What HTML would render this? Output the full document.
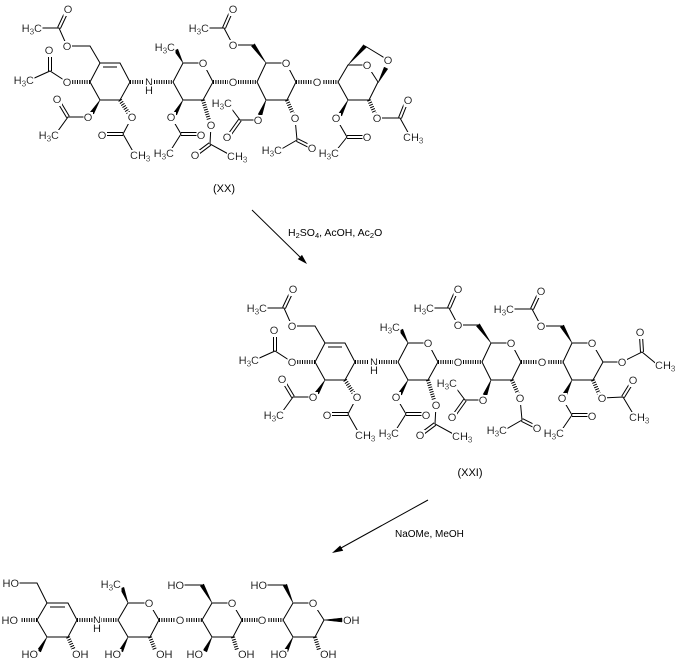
<!DOCTYPE html>
<html><head><meta charset="utf-8"><style>
html,body{margin:0;padding:0;background:#fff;}
svg{display:block;}
text{font-family:"Liberation Sans",Arial,sans-serif;font-size:11px;fill:#000;}
.t{filter:url(#bg);}
.m{text-anchor:middle;}
.e{text-anchor:end;}
.s{font-size:8px;}
.l{fill:none;stroke:#000;stroke-width:1;}
.h{fill:none;stroke:#000;stroke-width:4;stroke-dasharray:1 1.4;}
.d1{fill:none;stroke:#000;stroke-width:4;}
.d2{fill:none;stroke:#fff;stroke-width:2;}
.w{fill:#000;stroke:#000;stroke-width:0.5;}
</style></head><body>
<svg width="679" height="669" viewBox="0 0 679 669" xmlns="http://www.w3.org/2000/svg">
<defs>
<filter id="bg" x="0" y="0" width="1" height="1"><feFlood flood-color="#fff" result="f"/><feMerge><feMergeNode in="f"/><feMergeNode in="SourceGraphic"/></feMerge></filter>
</defs>
<rect width="679" height="669" fill="#fff"/>

<!-- ===== (XX) core ===== -->
<g>
<path class="d1" d="M59,28L67,11 M50,71L50,53 M68,117L59,102 M123,134L105,134 M181,134L198,134 M210,144L198,153 M224,28L231,12 M240,120L230,134 M297,140L309,146"/>
<path class="d2" d="M59,28L67,11 M50,71L50,53 M68,117L59,102 M123,134L105,134 M181,134L198,134 M210,144L198,153 M224,28L231,12 M240,120L230,134 M297,140L309,146"/>
<path class="l" d="M100,63L120,63L130,82L120,100L100,100L90,82Z M103,67L117,67 M100,63L90,46L67,46L59,28L38,28 M67,82L50,71L30,80 M88,117L68,117L55,135 M132,117L123,134L135,155 M173,82L183,63L203,63L213,82L203,100L183,100Z M171,117L181,134L169,153 M211,125L210,144L232,156 M257,82L266,63L286,63L296,82L287,100L266,100Z M253,45L233,45L224,28L205,28 M258,120L240,120L228,104 M295,118L297,140L278,151"/>
<path class="h" d="M90,82L71,82 M120,100L129,114 M130,82L144,82 M154,82L173,82 M203,100L209,120 M213,82L228,82 M238,82L257,82 M287,100L293,114 M296,82L312,82"/>
<polygon class="w" points="100,100 93.7,114 90.3,112"/>
<polygon class="w" points="183,63 177.8,49.1 174.2,50.9"/>
<polygon class="w" points="183,100 176.7,115 173.3,113"/>
<polygon class="w" points="266,63 254.6,43.8 251.4,46.2"/>
<polygon class="w" points="266,100 261.9,115.7 258.1,114.3"/>
<text class="t m" x="67" y="50">O</text>
<text class="t m" x="68" y="13">O</text>
<text class="t e" x="42" y="32">H<tspan class="s" dy="2.5">3</tspan><tspan dy="-2.5">C</tspan></text>
<text class="t m" x="67" y="86">O</text>
<text class="t m" x="49" y="54">O</text>
<text class="t e" x="34" y="84">H<tspan class="s" dy="2.5">3</tspan><tspan dy="-2.5">C</tspan></text>
<text class="t m" x="88" y="121">O</text>
<text class="t m" x="57" y="103">O</text>
<text class="t e" x="59" y="139">H<tspan class="s" dy="2.5">3</tspan><tspan dy="-2.5">C</tspan></text>
<text class="t m" x="132" y="121">O</text>
<text class="t m" x="102" y="139">O</text>
<text class="t" x="130" y="159">CH<tspan class="s" dy="2.5">3</tspan></text>
<text class="t m" x="149" y="86">N</text>
<text class="t m" x="149" y="94">H</text>
<text class="t m" x="203" y="67">O</text>
<text class="t e" x="175" y="51">H<tspan class="s" dy="2.5">3</tspan><tspan dy="-2.5">C</tspan></text>
<text class="t m" x="171" y="121">O</text>
<text class="t m" x="201" y="139">O</text>
<text class="t e" x="174" y="157">H<tspan class="s" dy="2.5">3</tspan><tspan dy="-2.5">C</tspan></text>
<text class="t m" x="211" y="129">O</text>
<text class="t m" x="195" y="159">O</text>
<text class="t" x="227" y="160">CH<tspan class="s" dy="2.5">3</tspan></text>
<text class="t m" x="233" y="86">O</text>
<text class="t m" x="286" y="67">O</text>
<text class="t m" x="233" y="49">O</text>
<text class="t m" x="233" y="13">O</text>
<text class="t e" x="209" y="32">H<tspan class="s" dy="2.5">3</tspan><tspan dy="-2.5">C</tspan></text>
<text class="t m" x="258" y="124">O</text>
<text class="t m" x="227" y="141">O</text>
<text class="t e" x="232" y="107">H<tspan class="s" dy="2.5">3</tspan><tspan dy="-2.5">C</tspan></text>
<text class="t m" x="295" y="122">O</text>
<text class="t m" x="312" y="152">O</text>
<text class="t e" x="282" y="154">H<tspan class="s" dy="2.5">3</tspan><tspan dy="-2.5">C</tspan></text>
</g>

<!-- XX ring D (anhydro) -->
<g>
<path class="d1" d="M347,137L363,137 M400,118L406,103"/>
<path class="d2" d="M347,137L363,137 M400,118L406,103"/>
<path class="l" d="M338,82L348,65L367,65L378,82L369,100L348,100Z M365,46L388,60 M336,118L347,137L335,152 M377,118L400,118L410,136"/>
<path class="h" d="M321,82L338,82 M369,100L375,114"/>
<polygon class="w" points="348,65 366.5,47.3 363.5,44.7"/>
<polygon class="w" points="378,83 387.8,68.9 384.2,67.1"/>
<polygon class="w" points="348,100 341.8,115.9 338.2,114.1"/>
<text class="t m" x="317" y="86">O</text>
<text class="t m" x="367" y="69">O</text>
<text class="t m" x="388" y="64">O</text>
<text class="t m" x="336" y="122">O</text>
<text class="t m" x="367" y="141">O</text>
<text class="t e" x="339" y="157">H<tspan class="s" dy="2.5">3</tspan><tspan dy="-2.5">C</tspan></text>
<text class="t m" x="377" y="122">O</text>
<text class="t m" x="408" y="104">O</text>
<text class="t" x="403" y="141">CH<tspan class="s" dy="2.5">3</tspan></text>
</g>
<text class="m" x="224" y="192">(XX)</text>

<!-- Arrow 1 -->
<path class="l" d="M252,210L300,257"/>
<polygon points="307,264 297.8,259.1 302,254.9" fill="#000"/>
<text x="288" y="236" style="font-size:10.5px">H<tspan style="font-size:7.5px" dy="2">2</tspan><tspan dy="-2">SO</tspan><tspan style="font-size:7.5px" dy="2">4</tspan><tspan dy="-2">, AcOH, Ac</tspan><tspan style="font-size:7.5px" dy="2">2</tspan><tspan dy="-2">O</tspan></text>

<!-- ===== (XXI) core ===== -->
<g transform="translate(225,280)">
<path class="d1" d="M59,28L67,11 M50,71L50,53 M68,117L59,102 M123,134L105,134 M181,134L198,134 M210,144L198,153 M224,28L231,12 M240,120L230,134 M297,140L309,146"/>
<path class="d2" d="M59,28L67,11 M50,71L50,53 M68,117L59,102 M123,134L105,134 M181,134L198,134 M210,144L198,153 M224,28L231,12 M240,120L230,134 M297,140L309,146"/>
<path class="l" d="M100,63L120,63L130,82L120,100L100,100L90,82Z M103,67L117,67 M100,63L90,46L67,46L59,28L38,28 M67,82L50,71L30,80 M88,117L68,117L55,135 M132,117L123,134L135,155 M173,82L183,63L203,63L213,82L203,100L183,100Z M171,117L181,134L169,153 M211,125L210,144L232,156 M257,82L266,63L286,63L296,82L287,100L266,100Z M253,45L233,45L224,28L205,28 M258,120L240,120L228,104 M295,118L297,140L278,151"/>
<path class="h" d="M90,82L71,82 M120,100L129,114 M130,82L144,82 M154,82L173,82 M203,100L209,120 M213,82L228,82 M238,82L257,82 M287,100L293,114 M296,82L312,82"/>
<polygon class="w" points="100,100 93.7,114 90.3,112"/>
<polygon class="w" points="183,63 177.8,49.1 174.2,50.9"/>
<polygon class="w" points="183,100 176.7,115 173.3,113"/>
<polygon class="w" points="266,63 254.6,43.8 251.4,46.2"/>
<polygon class="w" points="266,100 261.9,115.7 258.1,114.3"/>
<text class="t m" x="67" y="50">O</text>
<text class="t m" x="68" y="13">O</text>
<text class="t e" x="42" y="32">H<tspan class="s" dy="2.5">3</tspan><tspan dy="-2.5">C</tspan></text>
<text class="t m" x="67" y="86">O</text>
<text class="t m" x="49" y="54">O</text>
<text class="t e" x="34" y="84">H<tspan class="s" dy="2.5">3</tspan><tspan dy="-2.5">C</tspan></text>
<text class="t m" x="88" y="121">O</text>
<text class="t m" x="57" y="103">O</text>
<text class="t e" x="59" y="139">H<tspan class="s" dy="2.5">3</tspan><tspan dy="-2.5">C</tspan></text>
<text class="t m" x="132" y="121">O</text>
<text class="t m" x="102" y="139">O</text>
<text class="t" x="130" y="159">CH<tspan class="s" dy="2.5">3</tspan></text>
<text class="t m" x="149" y="86">N</text>
<text class="t m" x="149" y="94">H</text>
<text class="t m" x="203" y="67">O</text>
<text class="t e" x="175" y="51">H<tspan class="s" dy="2.5">3</tspan><tspan dy="-2.5">C</tspan></text>
<text class="t m" x="171" y="121">O</text>
<text class="t m" x="201" y="139">O</text>
<text class="t e" x="174" y="157">H<tspan class="s" dy="2.5">3</tspan><tspan dy="-2.5">C</tspan></text>
<text class="t m" x="211" y="129">O</text>
<text class="t m" x="195" y="159">O</text>
<text class="t" x="227" y="160">CH<tspan class="s" dy="2.5">3</tspan></text>
<text class="t m" x="233" y="86">O</text>
<text class="t m" x="286" y="67">O</text>
<text class="t m" x="233" y="49">O</text>
<text class="t m" x="233" y="13">O</text>
<text class="t e" x="209" y="32">H<tspan class="s" dy="2.5">3</tspan><tspan dy="-2.5">C</tspan></text>
<text class="t m" x="258" y="124">O</text>
<text class="t m" x="227" y="141">O</text>
<text class="t e" x="232" y="107">H<tspan class="s" dy="2.5">3</tspan><tspan dy="-2.5">C</tspan></text>
<text class="t m" x="295" y="122">O</text>
<text class="t m" x="312" y="152">O</text>
<text class="t e" x="282" y="154">H<tspan class="s" dy="2.5">3</tspan><tspan dy="-2.5">C</tspan></text>
</g>

<!-- XXI ring D (glucose tetraacetate) -->
<g>
<path class="d1" d="M532,309L539,294 M642,352L641,336 M623,397L631,384 M572,415L588,415"/>
<path class="d2" d="M532,309L539,294 M642,352L641,336 M623,397L631,384 M572,415L588,415"/>
<path class="l" d="M563,362L572,343L592,343L603,362L593,380L572,380Z M562,326L541,326L532,309L510,309 M603,362L622,362L642,352L659,366 M602,398L623,397L635,417 M562,398L572,415L559,434"/>
<path class="h" d="M546,362L563,362 M593,380L599,394"/>
<polygon class="w" points="572,343 563.7,325 560.3,327"/>
<polygon class="w" points="572,380 566.8,394.9 563.2,393.1"/>
<text class="t m" x="542" y="366">O</text>
<text class="t m" x="592" y="347">O</text>
<text class="t m" x="541" y="330">O</text>
<text class="t m" x="541" y="295">O</text>
<text class="t e" x="514" y="313">H<tspan class="s" dy="2.5">3</tspan><tspan dy="-2.5">C</tspan></text>
<text class="t m" x="622" y="366">O</text>
<text class="t m" x="640" y="336">O</text>
<text class="t" x="655" y="369">CH<tspan class="s" dy="2.5">3</tspan></text>
<text class="t m" x="602" y="402">O</text>
<text class="t m" x="633" y="384">O</text>
<text class="t" x="629" y="421">CH<tspan class="s" dy="2.5">3</tspan></text>
<text class="t m" x="562" y="402">O</text>
<text class="t m" x="592" y="420">O</text>
<text class="t e" x="564" y="437">H<tspan class="s" dy="2.5">3</tspan><tspan dy="-2.5">C</tspan></text>
</g>
<text class="m" x="470" y="476">(XXI)</text>

<!-- Arrow 2 -->
<path class="l" d="M428,500L341,548"/>
<polygon points="332,553 343.2,550.7 340.2,545.5" fill="#000"/>
<text x="395" y="537" style="font-size:10px">NaOMe, MeOH</text>

<!-- ===== Product ===== -->
<g>
<path class="l" d="M37,620L47,603L68,603L77,620L68,637L47,637Z M50,607L65,607 M47,603L37,583L14,583 M118,620L128,603L149,603L159,620L150,637L128,637Z M202,620L212,603L232,603L242,620L233,637L212,637Z M202,585L178,585 M283,620L293,603L313,603L324,620L315,637L293,637Z M285,585L262,585"/>
<path class="h" d="M37,620L21,620 M68,637L74,650 M77,620L93,620 M101,620L118,620 M150,637L155,650 M159,620L176,620 M184,620L202,620 M233,637L237,650 M242,620L258,620 M266,620L283,620 M315,637L319,650"/>
<polygon class="w" points="47,637 40.7,652 37.3,650"/>
<polygon class="w" points="128,603 123.9,587.3 120.1,588.7"/>
<polygon class="w" points="128,637 122.8,651.9 119.2,650.1"/>
<polygon class="w" points="212,603 203.7,584 200.3,586"/>
<polygon class="w" points="212,637 206.8,651.9 203.2,650.1"/>
<polygon class="w" points="293,603 286.8,584.2 283.2,585.8"/>
<polygon class="w" points="293,637 287.8,651.9 284.2,650.1"/>
<polygon class="w" points="324,620 342,622 342,618"/>
<text class="t e" x="19" y="587">HO</text>
<text class="t e" x="18" y="624">HO</text>
<text class="t e" x="38" y="658">HO</text>
<text class="t" x="72" y="658">OH</text>
<text class="t m" x="97" y="624">N</text>
<text class="t m" x="97" y="632">H</text>
<text class="t e" x="121" y="588">H<tspan class="s" dy="2.5">3</tspan><tspan dy="-2.5">C</tspan></text>
<text class="t m" x="149" y="607">O</text>
<text class="t e" x="121" y="658">HO</text>
<text class="t" x="156" y="658">OH</text>
<text class="t m" x="180" y="624">O</text>
<text class="t e" x="184" y="589">HO</text>
<text class="t m" x="232" y="607">O</text>
<text class="t e" x="203" y="658">HO</text>
<text class="t" x="238" y="658">OH</text>
<text class="t m" x="262" y="624">O</text>
<text class="t e" x="267" y="589">HO</text>
<text class="t m" x="313" y="607">O</text>
<text class="t e" x="287" y="658">HO</text>
<text class="t" x="320" y="658">OH</text>
<text class="t" x="343" y="624">OH</text>
</g>
</svg>
</body></html>
